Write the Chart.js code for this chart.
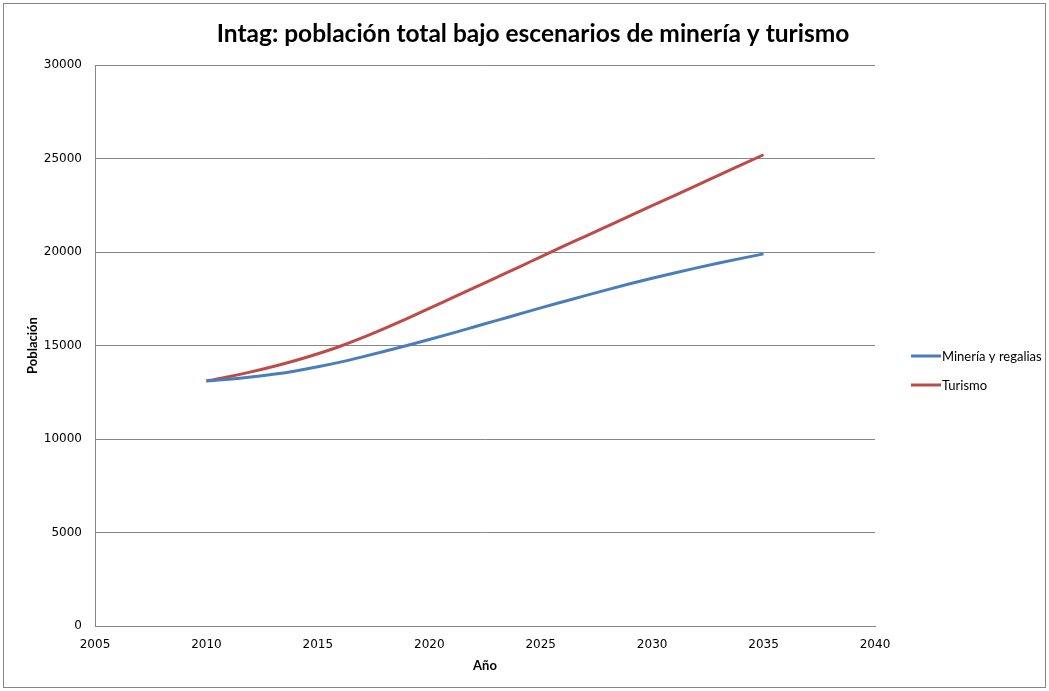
<!DOCTYPE html>
<html>
<head>
<meta charset="utf-8">
<script src="https://cdn.jsdelivr.net/npm/chart.js@4.4.0/dist/chart.umd.min.js"></script>
<style>
  html, body { margin: 0; padding: 0; background: #ffffff; }
  #wrap { position: absolute; left: 0; top: 0; width: 1049px; height: 691px; }
</style>
</head>
<body>
<div id="wrap"><canvas id="c" width="1049" height="691"></canvas></div>
<script>
const chartTitle = 'Intag: población total bajo escenarios de minería y turismo';
const xAxisTitle = 'Año';
const yAxisTitle = 'Población';
const seriesNames = ['Minería y regalias', 'Turismo'];
const years = [2010, 2011, 2012, 2013, 2014, 2015, 2016, 2017, 2018, 2019, 2020, 2021, 2022, 2023, 2024, 2025, 2026, 2027, 2028, 2029, 2030, 2031, 2032, 2033, 2034, 2035];
const mineria = [13100, 13190, 13310, 13460, 13640, 13860, 14110, 14390, 14690, 15000, 15320, 15650, 15990, 16330, 16670, 17010, 17340, 17670, 17990, 18300, 18600, 18880, 19150, 19410, 19660, 19900];
const turismo = [13100, 13330, 13590, 13880, 14200, 14560, 14960, 15420, 15920, 16440, 16980, 17530, 18080, 18630, 19180, 19740, 20295, 20840, 21385, 21930, 22475, 23020, 23565, 24110, 24655, 25200];
const xTickRange = [2005, 2040, 5];
const yTickRange = [0, 30000, 5000];
const seriesColors = ['#4A7EBB', '#BE4B48'];

const gridColor = '#868686';

const toPoints = (vals) => years.map((y, i) => ({ x: y, y: vals[i] }));

const decorPlugin = {
  id: 'decor',
  beforeDraw(chart) {
    const ctx = chart.ctx;
    ctx.save();
    ctx.fillStyle = '#ffffff';
    ctx.fillRect(0, 0, chart.width, chart.height);
    ctx.restore();
  },
  afterDraw(chart) {
    const ctx = chart.ctx;
    ctx.save();
    ctx.strokeStyle = '#868686';
    ctx.lineWidth = 1;
    ctx.strokeRect(3.5, 3.5, 1042, 684);
    ctx.fillStyle = '#000000';
    ctx.font = 'bold 24.5px Lato';
    ctx.textAlign = 'center';
    ctx.textBaseline = 'middle';
    ctx.fillText(chartTitle, 533, 34);
    const ds = chart.data.datasets;
    const ly = [356, 385];
    ctx.font = '13px Lato';
    ctx.textAlign = 'left';
    ds.forEach((d, i) => {
      ctx.strokeStyle = d.borderColor;
      ctx.lineWidth = 3;
      ctx.beginPath();
      ctx.moveTo(911, ly[i]);
      ctx.lineTo(941, ly[i]);
      ctx.stroke();
      ctx.fillStyle = '#000000';
      ctx.fillText(d.label, 942, ly[i] + 1);
    });
    ctx.restore();
  }
};

new Chart(document.getElementById('c'), {
  type: 'scatter',
  data: {
    datasets: [
      { label: seriesNames[0], data: toPoints(mineria), borderColor: seriesColors[0], backgroundColor: seriesColors[0], showLine: true, borderWidth: 3, pointRadius: 0, cubicInterpolationMode: 'monotone' },
      { label: seriesNames[1], data: toPoints(turismo), borderColor: seriesColors[1], backgroundColor: seriesColors[1], showLine: true, borderWidth: 3, pointRadius: 0, cubicInterpolationMode: 'monotone' }
    ]
  },
  options: {
    responsive: false,
    animation: false,
    devicePixelRatio: 1,
    layout: { padding: { left: 4, right: 174, top: 65, bottom: 4 } },
    plugins: {
      legend: { display: false },
      title: { display: false },
      tooltip: { enabled: false }
    },
    scales: {
      x: {
        type: 'linear',
        min: xTickRange[0], max: xTickRange[1],
        afterFit: (s) => { s.height = 61; },
        ticks: { stepSize: xTickRange[2], padding: 12, color: '#000000', font: { family: 'DejaVu Sans', size: 12 }, callback: (v) => String(v), maxRotation: 0 },
        grid: { display: false, drawTicks: false },
        border: { display: true, color: gridColor, width: 1 },
        title: { display: true, text: xAxisTitle, color: '#000000', font: { family: 'Lato', size: 13, weight: 'bold' }, padding: { top: 0, bottom: 13 } }
      },
      y: {
        min: yTickRange[0], max: yTickRange[1],
        afterFit: (s) => { s.width = 91; },
        ticks: { stepSize: yTickRange[2], padding: 13, color: '#000000', font: { family: 'DejaVu Sans', size: 12 }, callback: (v) => String(v) },
        grid: { color: gridColor, lineWidth: 1, drawTicks: false },
        border: { display: true, color: gridColor, width: 1 },
        title: { display: true, text: yAxisTitle, color: '#000000', font: { family: 'Lato', size: 13, weight: 'bold' }, padding: { top: 21, bottom: 0 } }
      }
    }
  },
  plugins: [decorPlugin]
});
</script>
</body>
</html>
